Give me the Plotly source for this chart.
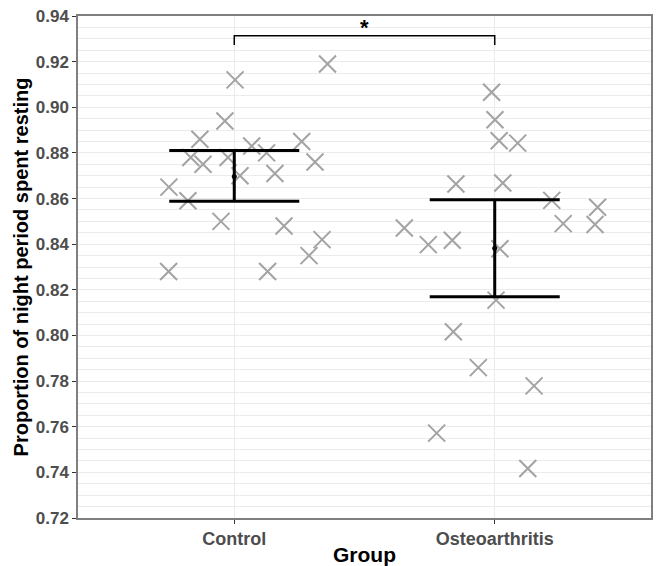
import plotly.graph_objects as go

# ---- data ----
categories = ["Control", "Osteoarthritis"]

control_x = [1.003, 1.358, 0.964, 0.868, 1.259, 1.067, 1.124, 0.833, 0.976, 0.880, 1.310,
             1.156, 1.022, 0.749, 0.822, 0.949, 1.191, 1.337, 1.287, 0.748, 1.128]
control_y = [0.912, 0.919, 0.894, 0.886, 0.885, 0.883, 0.880, 0.878, 0.878, 0.875, 0.876,
             0.871, 0.870, 0.865, 0.859, 0.850, 0.848, 0.842, 0.835, 0.828, 0.828]

oa_x = [1.988, 2.001, 2.017, 2.088, 1.851, 2.031, 2.219, 2.395, 1.653, 2.263, 2.385,
        1.745, 1.837, 2.020, 2.005, 1.841, 1.937, 2.151, 1.777, 2.127]
oa_y = [0.9066, 0.8945, 0.8853, 0.8843, 0.8664, 0.8668, 0.8592, 0.8562, 0.8471, 0.8490, 0.8486,
        0.8398, 0.8417, 0.8380, 0.8155, 0.8016, 0.7859, 0.7779, 0.7572, 0.7417]

group_pos = [1, 2]
group_mean = [0.8697, 0.8382]
group_upper = [0.8811, 0.8595]
group_lower = [0.8588, 0.8170]

bracket_x = [1, 1, 2, 2]
bracket_y = [0.9273, 0.9313, 0.9313, 0.9273]
sig_label = "*"

y_ticks = [0.72, 0.74, 0.76, 0.78, 0.80, 0.82, 0.84, 0.86, 0.88, 0.90, 0.92, 0.94]

# ---- figure ----
fig = go.Figure()

point_style = dict(symbol="x-thin-open", size=17, color="#A3A3A3",
                   line=dict(color="#A3A3A3", width=2))

fig.add_trace(go.Scatter(x=control_x, y=control_y, mode="markers",
                         marker=point_style, showlegend=False))
fig.add_trace(go.Scatter(x=oa_x, y=oa_y, mode="markers",
                         marker=point_style, showlegend=False))

err_plus = [u - m for u, m in zip(group_upper, group_mean)]
err_minus = [m - l for m, l in zip(group_mean, group_lower)]

fig.add_trace(go.Scatter(
    x=group_pos, y=group_mean, mode="markers",
    marker=dict(color="black", size=5),
    error_y=dict(type="data", symmetric=False, array=err_plus, arrayminus=err_minus,
                 color="black", thickness=3, width=65),
    showlegend=False))

fig.add_trace(go.Scatter(x=bracket_x, y=bracket_y, mode="lines",
                         line=dict(color="black", width=1.5), showlegend=False))

fig.add_annotation(x=1.5, y=0.9313, text=f"<b>{sig_label}</b>", showarrow=False,
                   yanchor="bottom", yshift=-6,
                   font=dict(size=22, color="black", family="Liberation Sans"))

fig.update_layout(
    width=657, height=566,
    margin=dict(l=78, r=6, t=16, b=48),
    paper_bgcolor="white", plot_bgcolor="white",
    font=dict(family="Liberation Sans, Arial, sans-serif"),
)

fig.update_xaxes(
    range=[0.4, 2.6], tickvals=group_pos, ticktext=[f"<b>{c}</b>" for c in categories],
    automargin=False,
    showgrid=True, gridcolor="#EBEBEB", gridwidth=1, zeroline=False,
    showline=True, linecolor="#7F7F7F", linewidth=1.5, mirror=True,
    ticks="outside", ticklen=4, tickcolor="#333333",
    tickfont=dict(size=18, color="#4D4D4D"),
    title=dict(text="<b>Group</b>", font=dict(size=21, color="black"), standoff=0),
)

fig.update_yaxes(
    range=[0.72, 0.94], tickvals=y_ticks, ticktext=[f"<b>{t:.2f}</b>" for t in y_ticks],
    automargin=False,
    showgrid=True, gridcolor="#EBEBEB", gridwidth=1, zeroline=False,
    minor=dict(dtick=0.005, tick0=0.72, showgrid=True, gridcolor="#EBEBEB", gridwidth=1),
    showline=True, linecolor="#7F7F7F", linewidth=1.5, mirror=True,
    ticks="outside", ticklen=4, tickcolor="#333333",
    tickfont=dict(size=17, color="#4D4D4D"),
    title=dict(text="<b>Proportion of night period spent resting</b>",
               font=dict(size=20, color="black"), standoff=2),
)

fig.write_html("out.html")
